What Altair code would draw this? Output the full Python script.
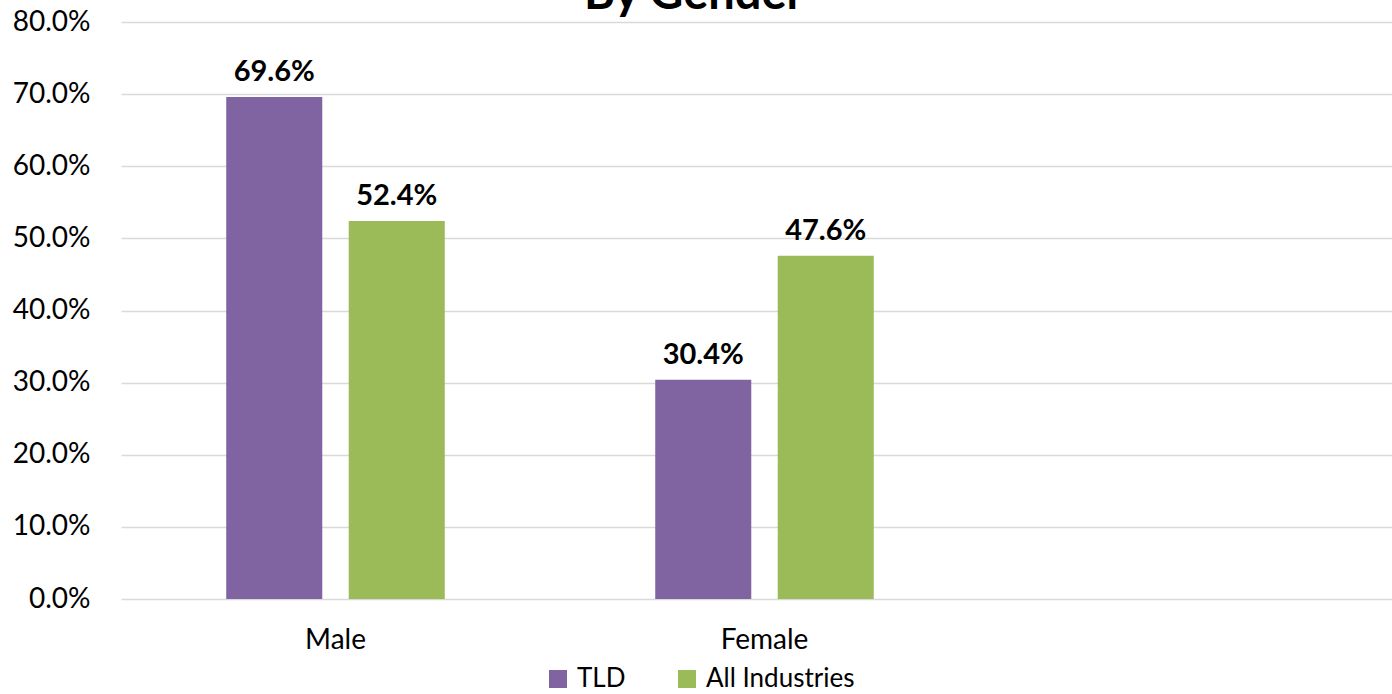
import altair as alt
import pandas as pd

# Share of workforce by gender
genders = ["Male", "Female"]
tld = [0.696, 0.304]
all_industries = [0.524, 0.476]
series = ["TLD", "All Industries"]
colors = ["#8064A2", "#9BBB59"]

rows = []
for i, g in enumerate(genders):
    rows.append({"gender": g, "series": "TLD", "share": tld[i]})
    rows.append({"gender": g, "series": "All Industries", "share": all_industries[i]})
df = pd.DataFrame(rows)

FONT = "Lato"

x_enc = alt.X(
    "gender:N",
    scale=alt.Scale(domain=genders + [" "], range=[0, 1287], paddingInner=0, paddingOuter=0),
    axis=alt.Axis(title=None, labelAngle=0, ticks=False, domain=False, labelPadding=27,
                  labelFontSize=28, labelColor="#000000", labelFont=FONT),
    sort=None,
)
x_off = alt.XOffset(
    "series:N",
    scale=alt.Scale(domain=series, paddingInner=0.216, paddingOuter=0.859),
)
y_enc = alt.Y(
    "share:Q",
    scale=alt.Scale(domain=[0, 0.8], nice=False),
    axis=alt.Axis(title=None, format=".1%", values=[i / 10 for i in range(9)],
                  ticks=False, domain=False, grid=True, gridColor="#D9D9D9", gridWidth=1.5,
                  labelPadding=31, labelFontSize=28, labelColor="#000000", labelFont=FONT),
)

bars = alt.Chart(df).mark_bar().encode(
    x=x_enc,
    xOffset=x_off,
    y=y_enc,
    color=alt.Color(
        "series:N",
        scale=alt.Scale(domain=series, range=colors),
        legend=alt.Legend(title=None, orient="none", direction="horizontal",
                          legendX=424, legendY=644, symbolType="square", symbolSize=324,
                          symbolStrokeWidth=0, labelFontSize=26, labelFont=FONT,
                          labelColor="#000000", columnPadding=48, symbolOffset=0,
                          labelOffset=6),
    ),
)

labels = alt.Chart(df).mark_text(
    fontSize=29, fontWeight="bold", font=FONT, dy=-16, baseline="alphabetic", color="#000000"
).encode(
    x=x_enc,
    xOffset=x_off,
    y=y_enc,
    text=alt.Text("share:Q", format=".1%"),
)

title = alt.Chart(pd.DataFrame({"t": ["By Gender"]})).mark_text(
    fontSize=47, fontWeight="bold", font=FONT, baseline="alphabetic", color="#000000"
).encode(x=alt.value(573), y=alt.value(-13), text="t:N")

chart = alt.layer(bars, labels, title).properties(
    width=1271,
    height=577,
    background="white",
    autosize=alt.AutoSizeParams(type="none"),
    padding={"left": 121, "top": 22, "right": 0, "bottom": 95},
).configure_view(stroke=None)

chart.save("out.html", embed_options={"renderer": "svg", "actions": False})
